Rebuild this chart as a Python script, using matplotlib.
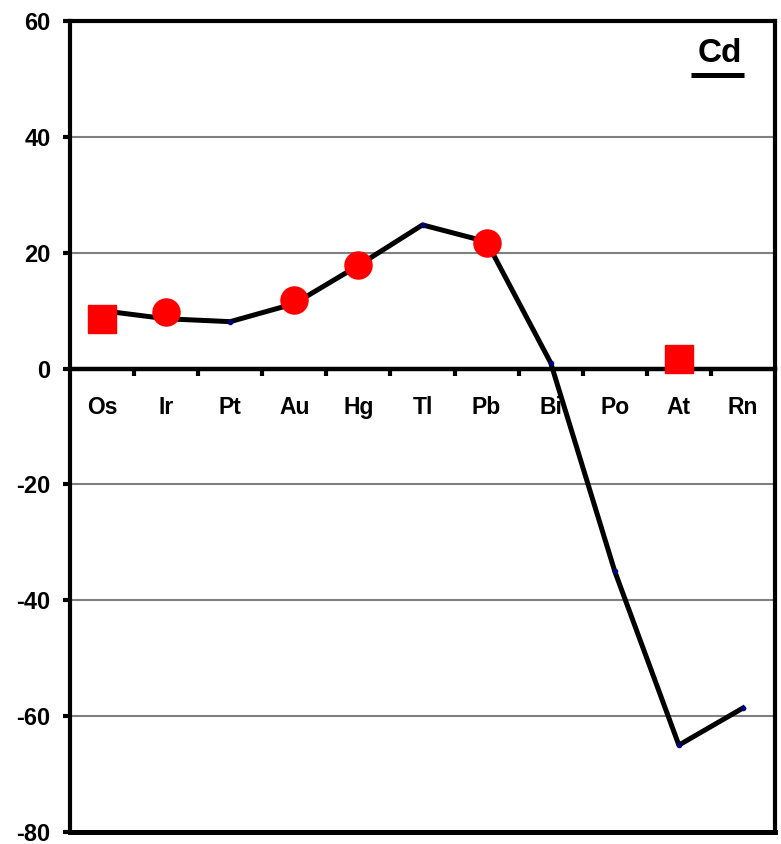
import matplotlib
matplotlib.use("Agg")
import matplotlib.pyplot as plt
import numpy as np

plt.rcParams['font.family'] = ['Liberation Sans', 'DejaVu Sans']

elements = ["Os", "Ir", "Pt", "Au", "Hg", "Tl", "Pb", "Bi", "Po", "At", "Rn"]
line_values = [10.0, 8.6, 8.1, 11.2, 17.8, 24.8, 21.9, 1.0, -35.0, -65.0, -58.6]
circle_elements = ["Ir", "Au", "Hg", "Pb"]
circle_values = [9.8, 11.9, 17.9, 21.6]
square_elements = ["Os", "At"]
square_values = [8.6, 1.6]
y_ticks = [-80, -60, -40, -20, 0, 20, 40, 60]
panel_label = "Cd"

fig = plt.figure(figsize=(7.81, 8.44), dpi=100)
ax = fig.add_axes([70/781, 12/844, 705/781, 811/844])

x = np.arange(len(elements))
idx = {e: i for i, e in enumerate(elements)}

ax.set_xlim(-0.5, len(elements) - 0.5)
ax.set_ylim(-80, 60)

# gridlines
for yv in y_ticks:
    if yv not in (0, -80, 60):
        ax.axhline(yv, color='#808080', lw=1.5, zorder=1)

ax.plot(x, line_values, color='black', lw=3.6, zorder=3,
        marker='o', markersize=3, markerfacecolor='navy', markeredgecolor='navy')
ax.plot([idx[e] for e in circle_elements], circle_values, linestyle='none',
        marker='o', markersize=19.5, color='red', zorder=4)
ax.plot([idx[e] for e in square_elements], square_values, linestyle='none',
        marker='s', markersize=19.5, color='red', zorder=4)

# spines
for s in ['left', 'right', 'top']:
    ax.spines[s].set_linewidth(3)
ax.spines['bottom'].set_position(('data', 0))
ax.spines['bottom'].set_linewidth(3.2)
ax.spines['bottom'].set_zorder(2)
ax.plot([0, 1], [0, 0], transform=ax.transAxes, color='black', lw=3.6,
        clip_on=False, zorder=5, solid_capstyle='projecting')

# x ticks: boundaries major, labels minor
ax.set_xticks(np.arange(0.5, len(elements) - 0.5, 1.0))
ax.set_xticklabels([])
ax.tick_params(axis='x', which='major', direction='out', length=5, width=3)
ax.set_xticks(x, minor=True)
ax.set_xticklabels(elements, minor=True, fontsize=16.5, fontweight='bold')
ax.tick_params(axis='x', which='minor', length=0, pad=19.5)

ax.set_yticks(y_ticks)
ax.set_yticklabels([str(v) for v in y_ticks], fontsize=17, fontweight='bold')
ax.tick_params(axis='y', direction='out', length=5, width=3, pad=9)

ax.text(0.953, 0.9494, panel_label, transform=ax.transAxes, ha='right', va='baseline',
        fontsize=24, fontweight='bold')
ax.plot([0.881, 0.956], [0.934, 0.934], transform=ax.transAxes, color='black',
        lw=3.6, solid_capstyle='butt')

fig.savefig("out.png", dpi=100)
